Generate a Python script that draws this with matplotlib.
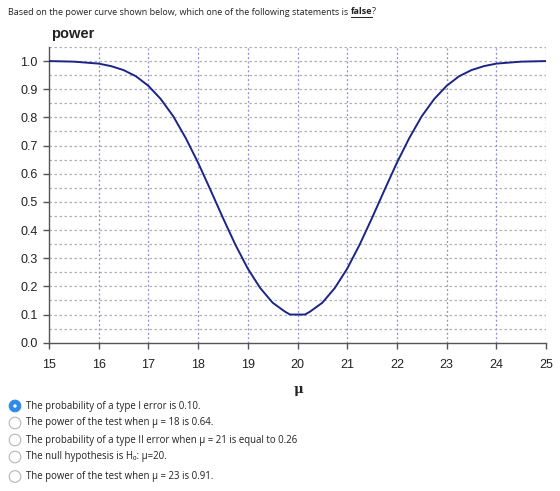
"""
Power curve question, redrawn
"""

import matplotlib
matplotlib.use('Agg')
import matplotlib.pyplot as plt
from matplotlib.patches import Circle

# power curve (mu, power)
mu = [15, 15.5, 16, 16.25, 16.5, 16.75, 17, 17.25, 17.5, 17.75, 18, 18.25, 18.5, 18.75,
      19, 19.25, 19.5, 19.75, 19.85, 20.15, 20.25, 20.5, 20.75, 21, 21.25, 21.5, 21.75,
      22, 22.25, 22.5, 22.75, 23, 23.25, 23.5, 23.75, 24, 24.5, 25]
power = [1.0, 0.998, 0.991, 0.982, 0.968, 0.946, 0.912, 0.865, 0.804, 0.727, 0.639, 0.542, 0.443, 0.348,
         0.263, 0.194, 0.142, 0.11, 0.10, 0.10, 0.11, 0.142, 0.194, 0.263, 0.348, 0.443, 0.542,
         0.639, 0.727, 0.804, 0.865, 0.912, 0.946, 0.968, 0.982, 0.991, 0.998, 1.0]

x_ticks = [15, 16, 17, 18, 19, 20, 21, 22, 23, 24, 25]
y_ticks = [0.0, 0.1, 0.2, 0.3, 0.4, 0.5, 0.6, 0.7, 0.8, 0.9, 1.0]

question = "Based on the power curve shown below, which one of the following statements is "
options = [
    "The probability of a type I error is 0.10.",
    "The power of the test when μ = 18 is 0.64.",
    "The probability of a type II error when μ = 21 is equal to 0.26",
    "The null hypothesis is H₀: μ=20.",
    "The power of the test when μ = 23 is 0.91.",
]
option_y = [406, 423, 440, 457, 476.5]

W, H = 560, 491
fig = plt.figure(figsize=(W / 100, H / 100), dpi=100)

# pixel overlay for question text and radio buttons
top = fig.add_axes([0, 0, 1, 1])
top.set_xlim(0, W)
top.set_ylim(H, 0)
top.axis('off')

ax = fig.add_axes([49 / W, 1 - 342.7 / H, 497 / W, (342.7 - 47) / H])
ax.set_xlim(15, 25)
ax.set_ylim(0, 1.05)

for v in [i * 0.05 for i in range(1, 22)]:
    ax.axhline(v, color='#b0b0b0', lw=0.9, ls=(0, (2, 2)), zorder=1)
for v in x_ticks[1:]:
    ax.axvline(v, color='#8a8ad8', lw=0.9, ls=(0, (1.5, 2)), zorder=1)

ax.plot(mu, power, color='#1c2488', lw=1.4, zorder=3)

for s in ['top', 'right']:
    ax.spines[s].set_visible(False)
for s in ['left', 'bottom']:
    ax.spines[s].set_color('#555555')
    ax.spines[s].set_linewidth(1.0)

ax.set_xticks(x_ticks)
ax.set_yticks(y_ticks)
ax.set_yticklabels(['%.1f' % v for v in y_ticks])
ax.tick_params(axis='both', length=4, width=1, color='#555555',
               labelsize=9, labelcolor='#222222', pad=4)
ax.tick_params(axis='x', pad=8)
for lab in ax.get_xticklabels() + ax.get_yticklabels():
    lab.set_family('Liberation Sans')

top.text(51, 34, 'power', fontsize=10.5, fontweight='bold',
         family='Liberation Sans', color='#222222', va='center', ha='left')
top.text(298, 389, 'μ', fontsize=9.5, fontweight='bold', family='DejaVu Serif',
         color='#222222', ha='center', va='center')

# question line with underlined bold "false"
fig.canvas.draw()
r = fig.canvas.get_renderer()
q = top.text(8, 12, question, fontsize=6.5, family='Open Sans', color='#222222', va='center')
bb = q.get_window_extent(renderer=r)
f = fig.text(bb.x1 / W, 1 - 12 / H, 'false', fontsize=6.5, family='Open Sans',
             fontweight='bold', color='#222222', va='center')
fb = f.get_window_extent(renderer=r)
top.plot([fb.x0, fb.x1], [16.5, 16.5], color='#222222', lw=0.7)
fig.text(fb.x1 / W, 1 - 12 / H, '?', fontsize=6.5, family='Open Sans',
         color='#222222', va='center')

for i, (txt, y) in enumerate(zip(options, option_y)):
    if i == 0:
        top.add_patch(Circle((15, y), 5.8, facecolor='#2f8be6', edgecolor='#2f8be6', lw=0.8))
        top.add_patch(Circle((15, y), 1.7, facecolor='white', edgecolor='none'))
    else:
        top.add_patch(Circle((15, y), 5.8, facecolor='white', edgecolor='#b5b5b5', lw=0.8))
    top.text(26, y, txt, fontsize=6.95, family=['Open Sans', 'DejaVu Sans'],
             color='#222222', va='center')

fig.savefig('out.png', dpi=100)
